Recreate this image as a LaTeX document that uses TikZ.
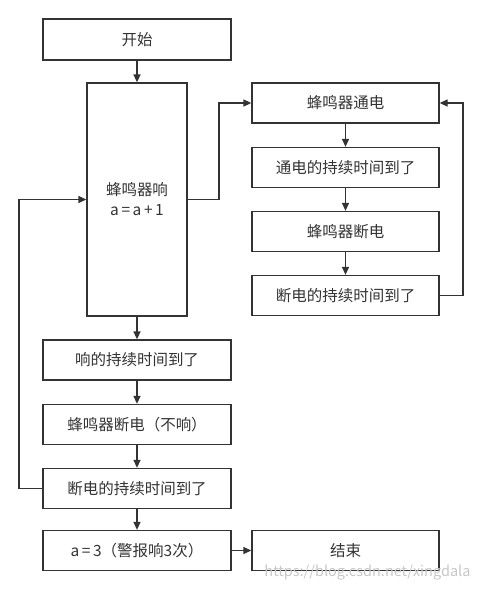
\documentclass[tikz,border=0pt]{standalone}
\usepackage{fontspec}
\setmainfont{Noto Sans CJK SC}
\usetikzlibrary{arrows.meta}
\definecolor{ink}{HTML}{333333}
\begin{document}
\begin{tikzpicture}[x=1pt,y=-1pt,
  box/.style={draw=ink, line width=1.3pt, inner sep=0pt, text=ink,
    font=\fontsize{15.5}{20}\selectfont, align=center},
  lbox/.style={box, minimum width=188pt, minimum height=40pt},
  rbox/.style={box, minimum width=187pt, minimum height=40pt},
  conn/.style={draw=ink, line width=1.3pt, -{Triangle[length=8pt,width=7pt]}}]
\useasboundingbox (0,0) rectangle (483,590);
\node[lbox, minimum height=41pt] (start) at (137,39.5) {开始};
\node[box, minimum width=100pt, minimum height=233pt] (big) at (137,199.5) {蜂鸣器响\\a\,=\,a\,+\,1};
\node[rbox] (r1) at (345.5,103) {蜂鸣器通电};
\node[rbox] (r2) at (345.5,167.5) {通电的持续时间到了};
\node[rbox] (r3) at (345.5,231.5) {蜂鸣器断电};
\node[rbox] (r4) at (345.5,295.5) {断电的持续时间到了};
\node[lbox] (l1) at (137,360) {响的持续时间到了};
\node[lbox] (l2) at (137,424.5) {蜂鸣器断电（不响）};
\node[lbox] (l3) at (137,488.5) {断电的持续时间到了};
\node[lbox] (l4) at (137,550.5) {a\,=\,3（警报响3次）};
\node[rbox] (end) at (345.5,550.5) {结束};
\node[text=black!22, font=\fontsize{14.5}{16}\selectfont, anchor=east] (wm) at (474,573) {https://blog.csdn.net/xingdala};
\coordinate (c1) at (219,103);
\coordinate (c2) at (463,103);
\coordinate (c3) at (19,199.5);
\draw[conn] (start) -- (big);
\draw[conn] (big.east) -| (c1) -- (r1.west);
\draw[conn] (r1) -- (r2);
\draw[conn] (r2) -- (r3);
\draw[conn] (r3) -- (r4);
\draw[conn] (r4.east) -| (c2) -- (r1.east);
\draw[conn] (big) -- (l1);
\draw[conn] (l1) -- (l2);
\draw[conn] (l2) -- (l3);
\draw[conn] (l3.west) -| (c3) -- (big.west);
\draw[conn] (l3) -- (l4);
\draw[conn] (l4) -- (end);
\end{tikzpicture}
\end{document}
